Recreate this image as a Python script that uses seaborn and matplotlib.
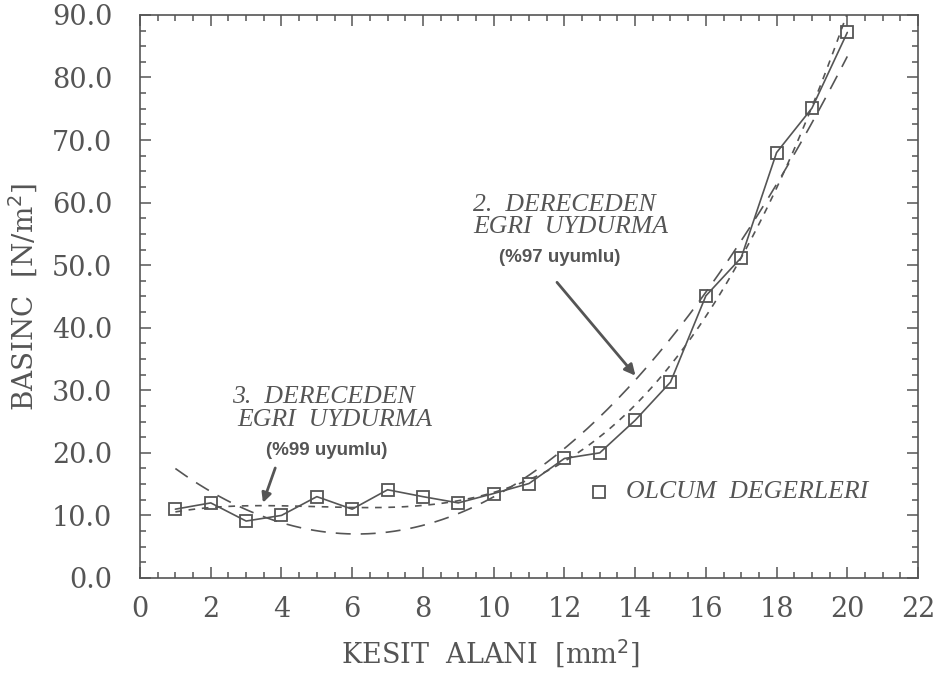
import numpy as np
import pandas as pd
import matplotlib
matplotlib.use("Agg")
import matplotlib.pyplot as plt
import seaborn as sns
from matplotlib.ticker import MultipleLocator

# ---- data ----
kesit_alani = [1, 2, 3, 4, 5, 6, 7, 8, 9, 10, 11, 12, 13, 14, 15, 16, 17, 18, 19, 20]
basinc = [11.0, 12.0, 9.1, 10.0, 13.0, 11.0, 14.1, 13.0, 12.0, 13.5, 15.1, 19.1, 20.0,
          25.2, 31.3, 45.1, 51.2, 68.0, 75.1, 87.2]
x_ticks = [0, 2, 4, 6, 8, 10, 12, 14, 16, 18, 20, 22]
y_ticks = [0, 10, 20, 30, 40, 50, 60, 70, 80, 90]

sns.set_theme(style="ticks")
plt.rcParams['font.family'] = ['DejaVu Serif', 'Liberation Serif']

gray = "#555555"
df = pd.DataFrame({"x": kesit_alani, "y": basinc})

# polynomial fits of the measured values (as in the chart: 2nd and 3rd degree)
xs = np.linspace(min(kesit_alani), max(kesit_alani), 200)
p2 = np.polyfit(kesit_alani, basinc, 2)
p3 = np.polyfit(kesit_alani, basinc, 3)
fit_df = pd.DataFrame({"x": xs, "q2": np.polyval(p2, xs), "q3": np.polyval(p3, xs)})

fig = plt.figure(figsize=(9.36, 6.73), dpi=100)
ax = fig.add_axes([0.1496, 0.1412, 0.8312, 0.8366])

sns.lineplot(data=fit_df, x="x", y="q2", ax=ax, color=gray, lw=1.2,
             linestyle=(0, (9, 6)))
sns.lineplot(data=fit_df, x="x", y="q3", ax=ax, color=gray, lw=1.2,
             linestyle=(0, (4, 4)))
sns.lineplot(data=df, x="x", y="y", ax=ax, color=gray, lw=1.2, marker="s",
             markersize=9, markerfacecolor="none", markeredgecolor=gray,
             markeredgewidth=1.3)

ax.set_xlim(0, 22)
ax.set_ylim(0, 90)
ax.set_xticks(x_ticks)
ax.set_yticks(y_ticks)
ax.set_xticklabels([str(t) for t in x_ticks])
ax.set_yticklabels([f"{t:.1f}" for t in y_ticks])
ax.xaxis.set_minor_locator(MultipleLocator(0.5))
ax.yaxis.set_minor_locator(MultipleLocator(2.5))
ax.tick_params(which="both", direction="in", top=True, right=True, color=gray,
               labelcolor=gray, labelsize=19.5, width=1.1)
ax.tick_params(which="major", length=8)
ax.tick_params(axis="x", which="major", pad=13)
ax.tick_params(axis="y", which="major", pad=20)
ax.tick_params(which="minor", length=4)
for s in ax.spines.values():
    s.set_color(gray)
    s.set_linewidth(1.2)

ax.set_xlabel("KESIT  ALANI  [mm$^2$]", fontsize=19.5, color=gray)
ax.set_ylabel("BASINC  [N/m$^2$]", fontsize=20, color=gray)
ax.xaxis.set_label_coords(0.45, -0.106)
ax.yaxis.set_label_coords(-0.128, 0.50)

# annotations
ital = dict(fontsize=18.5, color=gray, style="italic", family=['Liberation Serif', 'DejaVu Serif'])
bold = dict(fontsize=13.5, color=gray, weight="bold", family=['Liberation Sans', 'DejaVu Sans'])

ax.text(2.60, 29.0, "3.  DERECEDEN", ha="left", va="center", **ital)
ax.text(2.74, 25.2, "EGRI  UYDURMA", ha="left", va="center", **ital)
ax.text(5.29, 20.4, "(%99 uyumlu)", ha="center", va="center", **bold)
ax.annotate("", xy=(3.45, 11.6), xytext=(3.85, 18.0),
            arrowprops=dict(arrowstyle="-|>", color=gray, lw=2, mutation_scale=14))

ax.text(9.42, 59.6, "2.  DERECEDEN", ha="left", va="center", **ital)
ax.text(9.42, 56.1, "EGRI  UYDURMA", ha="left", va="center", **ital)
ax.text(11.88, 51.3, "(%97 uyumlu)", ha="center", va="center", **bold)
ax.annotate("", xy=(14.06, 32.0), xytext=(11.74, 47.6),
            arrowprops=dict(arrowstyle="-|>", color=gray, lw=2, mutation_scale=16))

# legend
ax.plot([12.98], [13.7], marker="s", markersize=8, markerfacecolor="none",
        markeredgecolor=gray, markeredgewidth=1.3, ls="none")
ax.text(13.74, 13.7, "OLCUM  DEGERLERI", ha="left", va="center", **ital)

fig.savefig("out.png", dpi=100)
